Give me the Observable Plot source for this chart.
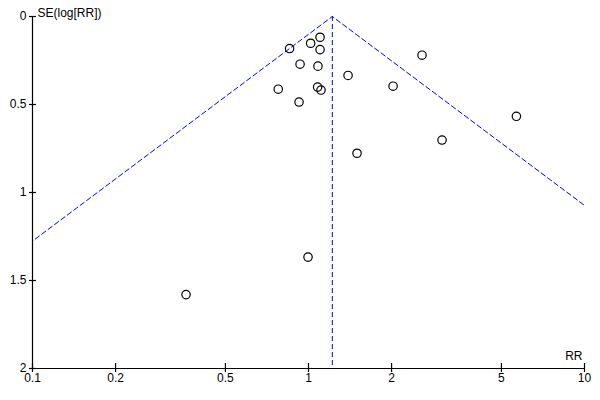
<!DOCTYPE html>
<html>
<head>
<meta charset="utf-8">
<script src="https://cdn.jsdelivr.net/npm/d3@7"></script>
<script src="https://cdn.jsdelivr.net/npm/@observablehq/plot@0.6"></script>
<style>
  html, body { margin: 0; padding: 0; background: #fff; }
</style>
</head>
<body>
<div id="chart"></div>
<script>
// Study estimates: risk ratio and standard error of log(RR)
const studyRR = [0.854, 1.018, 1.101, 1.101, 0.932, 1.082, 1.391, 2.578, 2.025, 0.777, 1.079, 1.110, 0.924, 3.047, 1.499, 5.665, 0.996, 0.360];
const studySE = [0.182, 0.152, 0.118, 0.188, 0.271, 0.282, 0.335, 0.220, 0.396, 0.413, 0.401, 0.418, 0.486, 0.702, 0.777, 0.567, 1.367, 1.580];

// Pooled estimate and funnel limits
const pooledRR = 1.22;
const zValue = 1.96;

// Axis ticks
const xTicks = [0.1, 0.2, 0.5, 1, 2, 5, 10];
const xTickLabels = ["0.1", "0.2", "0.5", "1", "2", "5", "10"];
const yTicks = [0, 0.5, 1, 1.5, 2];
const yTickLabels = ["0", "0.5", "1", "1.5", "2"];
const xDomain = [0.1, 10];
const yDomain = [0, 2];

const studies = studyRR.map((rr, i) => ({rr, se: studySE[i]}));
const seMax = yDomain[1];
const funnel = [
  {rr: pooledRR * Math.exp(-zValue * seMax), se: seMax},
  {rr: pooledRR, se: 0},
  {rr: pooledRR * Math.exp(zValue * seMax), se: seMax}
];

const blue = "#0000f0";
const font = "Liberation Sans, Arial, sans-serif";

const chart = Plot.plot({
  width: 600,
  height: 400,
  marginLeft: 32,
  marginRight: 16,
  marginTop: 16,
  marginBottom: 32,
  style: {fontFamily: font, fontSize: "12px", color: "#000", background: "#fff"},
  x: {type: "log", domain: xDomain},
  y: {domain: yDomain, reverse: true},
  marks: [
    // funnel
    Plot.line(funnel, {x: "rr", y: "se", stroke: blue, strokeWidth: 1, strokeDasharray: "5,3", clip: true}),
    Plot.ruleX([pooledRR], {y1: yDomain[0], y2: yDomain[1], stroke: blue, strokeWidth: 1, strokeDasharray: "5,3"}),
    // axis lines
    Plot.ruleX([xDomain[0]], {y1: yDomain[0], y2: yDomain[1], stroke: "#000", strokeWidth: 1.2}),
    Plot.ruleY([yDomain[1]], {x1: xDomain[0], x2: xDomain[1], stroke: "#000", strokeWidth: 1.2}),
    // axes
    Plot.axisX({ticks: xTicks, tickSize: 4, tickPadding: 1, label: null, tickFormat: d => xTickLabels[xTicks.indexOf(d)], stroke: "#000", strokeWidth: 1.2, fill: "#000", fontSize: 12}),
    Plot.axisX({ticks: xTicks, tickSize: -5, label: null, tickFormat: () => "", stroke: "#000", strokeWidth: 1.2}),
    Plot.axisY({ticks: yTicks, tickSize: 3, tickPadding: 3, label: null, tickFormat: d => yTickLabels[yTicks.indexOf(d)], stroke: "#000", strokeWidth: 1.2, fill: "#000", fontSize: 12}),
    Plot.axisY({ticks: yTicks, tickSize: -4, label: null, tickFormat: () => "", stroke: "#000", strokeWidth: 1.2}),
    // axis titles
    Plot.text(["SE(log[RR])"], {frameAnchor: "top-left", dx: 5, dy: -8, textAnchor: "start", fill: "#000", fontSize: 12}),
    Plot.text(["RR"], {frameAnchor: "bottom-right", dx: -2, dy: -9, textAnchor: "end", fill: "#000", fontSize: 12}),
    // studies
    Plot.dot(studies, {x: "rr", y: "se", r: 4.2, stroke: "#000", strokeWidth: 1.2, fill: "none"})
  ]
});
document.getElementById("chart").appendChild(chart);
</script>
</body>
</html>
